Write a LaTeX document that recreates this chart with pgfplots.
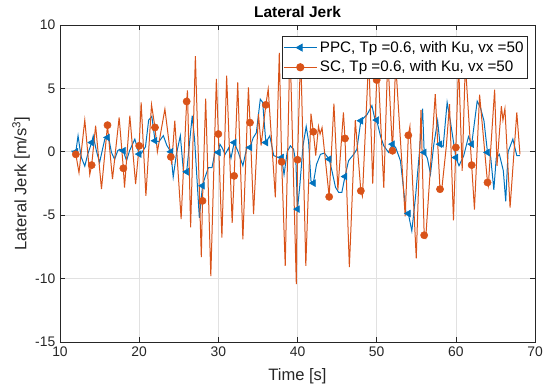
\documentclass[border=0pt]{standalone}
\usepackage{fontspec}
\setmainfont{Liberation Sans}
\usepackage{pgfplots}
\pgfplotsset{compat=1.18}
\definecolor{mblue}{rgb}{0,0.447,0.741}
\definecolor{morange}{rgb}{0.85,0.325,0.098}
\definecolor{mgrid}{RGB}{225,225,225}
\definecolor{maxis}{RGB}{38,38,38}
\begin{document}
\begin{tikzpicture}
\begin{axis}[
  scale only axis, width=356.25pt, height=237.75pt,
  xmin=10, xmax=70, ymin=-15, ymax=10,
  xtick={10,20,...,70}, ytick={-15,-10,...,10},
  grid=major, major grid style={mgrid, line width=0.5pt},
  axis line style={maxis, line width=0.5pt},
  tick style={maxis, line width=0.5pt},
  tick align=inside, major tick length=3.5pt, tick pos=both,
  ticklabel style={font=\fontsize{10.4pt}{12pt}\selectfont, text=maxis},
  /pgf/number format/assume math mode=true,
  xlabel={Time [s]},
  ylabel={Lateral Jerk [m/s\textsuperscript{3}]},
  every axis x label/.style={at={(axis description cs:0.5,0)}, yshift=-25.5pt, anchor=center, font=\fontsize{12.4pt}{14pt}\selectfont, text=maxis},
  every axis y label/.style={at={(axis description cs:-0.082,0.5)}, rotate=90, anchor=center, font=\fontsize{12.4pt}{14pt}\selectfont, text=maxis},
  title={\textbf{Lateral Jerk}},
  every axis title/.style={at={(axis description cs:0.5,1)}, yshift=9.5pt, anchor=center, font=\fontsize{11.6pt}{13pt}\selectfont},
  legend style={at={(0.985,0.965)}, anchor=north east, font=\fontsize{11.4pt}{13pt}\selectfont,
    draw=maxis, line width=0.5pt, fill=white, inner xsep=1pt, inner ysep=1.5pt, row sep=1pt,
    cells={anchor=west}},
  legend image code/.code={\draw[mark repeat=2,mark phase=2,#1] plot coordinates {(0pt,0pt) (12.4pt,0pt) (24.75pt,0pt)};},
]
\addplot[mblue, line width=0.75pt, forget plot] coordinates {
(11.45,0.07) (11.9,0.0) (12.0,0.0) (12.28,1.26) (12.5,0.3) (12.7,-0.45) (13.13,-1.13) (13.5,-0.2)
(14.0,0.73) (14.2,1.26) (14.6,0.07) (15.0,-0.85) (15.3,0.0) (15.66,1.0) (16.0,1.13) (16.1,1.26)
(16.5,-0.05) (16.9,-0.6) (17.3,0.1) (17.56,0.2) (18.0,0.08) (18.4,-0.7) (18.8,0.1) (19.45,1.0)
(20.0,-0.18) (20.3,-0.1) (20.8,0.4) (21.2,2.5) (21.6,2.8) (22.0,0.87) (22.5,0.8) (23.05,1.27)
(23.5,0.5) (24.0,0.0) (24.3,-2.0) (24.7,-0.2) (25.2,1.27) (25.6,-1.6) (26.0,-1.58) (26.3,0.3)
(26.7,2.84) (27.0,1.0) (27.6,-5.2) (28.0,-2.68) (28.3,-2.04) (28.75,-1.25) (29.2,-1.25) (29.6,0.05)
(30.0,-0.05) (30.2,0.6) (30.5,0.3) (30.85,-0.2) (31.3,0.3) (31.6,-0.5) (32.0,0.73) (32.5,0.0)
(33.1,-1.1) (33.6,0.34) (34.0,0.34) (34.4,1.1) (34.8,1.5) (35.3,4.15) (35.6,3.9) (36.0,0.73)
(36.5,1.26) (37.0,-0.3) (37.6,-0.45) (38.0,-0.45) (38.3,-1.8) (38.7,0.0) (39.1,0.47) (39.5,0.2)
(39.8,-0.85) (40.0,-4.52) (40.3,-2.6) (40.7,0.5) (41.1,2.0) (41.4,0.82) (41.7,-2.3) (42.0,-2.47)
(42.4,-1.0) (42.9,-0.2) (43.4,-0.1) (44.0,-0.58) (44.35,-1.5) (44.8,-2.8) (45.2,-3.2) (45.6,-3.2)
(46.0,-1.95) (46.45,-0.7) (47.1,-0.2) (47.5,0.2) (48.0,2.45) (48.8,2.95) (49.4,3.64) (49.8,2.5)
(50.0,2.5) (50.5,1.2) (50.9,0.47) (51.5,-0.05) (52.0,0.6) (52.4,0.34) (53.0,-0.7) (53.4,-2.95)
(53.7,-4.8) (54.0,-4.87) (54.44,-6.24) (54.9,-3.6) (55.4,-0.05) (55.8,3.4) (56.0,-0.05) (56.4,-0.5)
(56.8,-1.76) (57.2,0.5) (57.7,2.45) (58.0,0.6) (58.4,0.4) (58.9,3.9) (59.3,2.45) (60.0,-0.45)
(60.4,-1.1) (61.0,-0.3) (61.6,1.2) (62.0,0.6) (62.7,4.0) (63.1,3.5) (63.55,2.45) (64.0,-0.05)
(64.4,-0.4) (64.8,-3.0) (65.1,-0.5) (65.5,-0.2) (66.0,-1.5) (66.3,-3.9) (66.6,0.0) (67.2,1.0)
(67.7,-0.3) (68.1,-0.3)
};
\addplot[morange, line width=0.75pt, forget plot] coordinates {
(11.7,0.0) (12.0,-0.2) (12.4,-1.65) (13.13,2.5) (13.76,-1.8) (14.0,-1.05) (14.5,2.06) (15.24,-2.94)
(16.0,2.1) (16.63,-2.16) (17.47,2.71) (18.0,-1.3) (18.15,-2.82) (18.82,2.84) (19.55,-2.55) (20.0,0.47)
(20.25,3.89) (20.85,-3.47) (21.56,3.71) (22.0,1.92) (22.3,0.0) (23.25,3.37) (24.0,-0.4) (24.1,-1.0)
(24.5,2.45) (25.3,-5.3) (26.0,3.97) (26.1,4.85) (26.5,-5.95) (27.1,7.55) (27.85,-8.3) (28.0,-3.87)
(28.4,4.2) (29.05,-9.8) (29.75,5.75) (30.0,1.4) (30.45,-6.76) (31.05,6.0) (31.75,-5.6) (32.0,-1.9)
(32.45,5.47) (33.1,-6.9) (33.8,5.08) (34.0,2.3) (34.45,-4.92) (35.07,2.97) (35.4,0.5) (36.0,3.7)
(36.3,4.95) (37.2,-3.6) (37.7,7.8) (38.0,-0.79) (38.45,-9.0) (39.05,8.5) (39.85,-10.44) (40.0,-0.63)
(40.4,8.0) (41.05,-9.0) (41.7,3.0) (42.0,1.58) (42.3,-0.3) (42.65,2.0) (42.85,1.4) (43.1,1.9)
(44.0,-3.55) (44.6,3.8) (45.1,-3.0) (45.8,3.1) (46.0,1.05) (46.55,-9.1) (47.3,2.5) (48.0,-3.08)
(48.2,-3.5) (49.0,7.5) (49.5,-2.5) (50.0,5.66) (50.15,7.0) (50.9,-2.85) (51.4,7.5) (52.0,0.08)
(52.4,7.0) (53.6,-5.1) (54.0,1.3) (54.2,2.0) (55.0,-8.4) (55.6,3.3) (56.0,-6.58) (56.2,-6.8)
(57.4,4.55) (58.0,-2.95) (58.2,-3.1) (58.8,0.45) (59.2,3.76) (59.7,-5.4) (60.0,0.34) (60.35,7.0)
(60.8,-1.5) (61.2,7.0) (62.0,-1.05) (62.35,-4.55) (63.0,4.5) (64.0,-2.42) (64.1,-2.7) (64.9,4.9)
(65.2,-1.1) (65.75,3.6) (65.95,2.5) (66.2,3.4) (66.85,-4.4) (67.7,3.1) (68.1,-0.2)
};
\addplot[mblue, only marks, mark=triangle*, mark size=2.9pt, mark options={rotate=90, fill=mblue, draw=mblue}, forget plot] coordinates {
(12,0.0) (14,0.73) (16,1.13) (18,0.08) (20,-0.18) (22,0.87) (24,0.0) (26,-1.58) (28,-2.68)
(30,-0.05) (32,0.73) (34,0.34) (36,0.73) (38,-0.45) (40,-4.52) (42,-2.47) (44,-0.58) (46,-1.95)
(48,2.45) (50,2.5) (52,0.6) (54,-4.87) (56,-0.05) (58,0.6) (60,-0.45) (62,0.6) (64,-0.05)
};
\addplot[morange, only marks, mark=*, mark size=2.7pt, mark options={fill=morange, draw=morange}, forget plot] coordinates {
(12,-0.2) (14,-1.05) (16,2.1) (18,-1.3) (20,0.47) (22,1.92) (24,-0.4) (26,3.97) (28,-3.87)
(30,1.4) (32,-1.9) (34,2.3) (36,3.7) (38,-0.79) (40,-0.63) (42,1.58) (44,-3.55) (46,1.05)
(48,-3.08) (50,5.66) (52,0.08) (54,1.3) (56,-6.58) (58,-2.95) (60,0.34) (62,-1.05) (64,-2.42)
};
\addlegendimage{mblue, line width=0.75pt, mark=triangle*, mark size=2.9pt, mark options={rotate=90, fill=mblue}}
\addlegendentry{PPC, Tp =0.6, with Ku, vx =50}
\addlegendimage{morange, line width=0.75pt, mark=*, mark size=2.7pt, mark options={fill=morange}}
\addlegendentry{SC, Tp =0.6, with Ku, vx =50}
\coordinate (bl) at (rel axis cs:0,0);
\coordinate (tr) at (rel axis cs:1,1);
\end{axis}
\pgfresetboundingbox
\path[use as bounding box] ([xshift=-45pt,yshift=-36pt]bl) rectangle ([xshift=7.5pt,yshift=18.75pt]tr);
\end{tikzpicture}
\end{document}
